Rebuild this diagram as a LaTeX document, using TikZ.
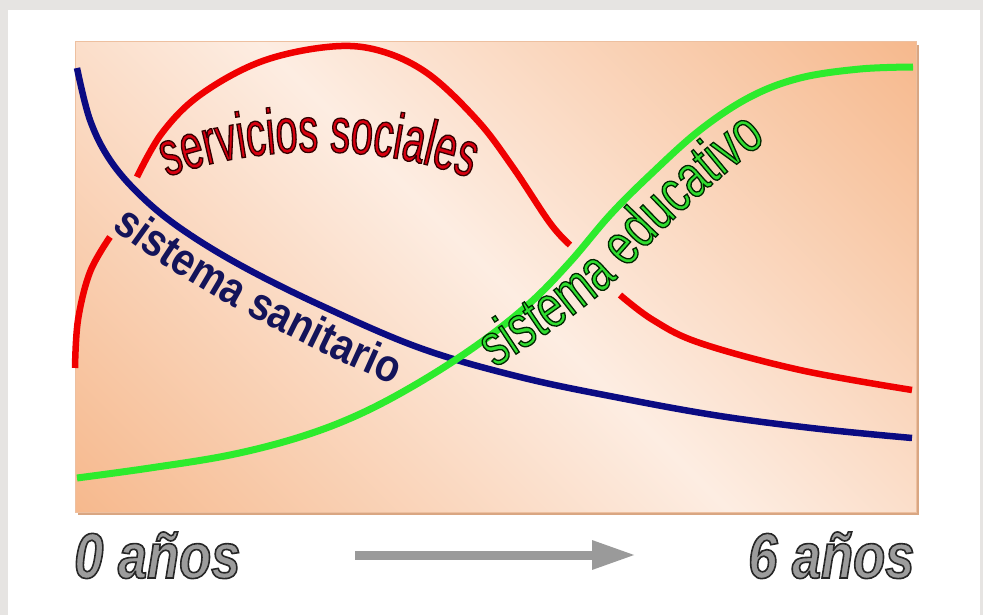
\documentclass[tikz,border=0pt]{standalone}
\usepackage{fontspec}
\setmainfont{Liberation Sans}
\newfontfamily\srvfont{Liberation Sans}[FakeStretch=0.62]
\newfontfamily\sanfont{Liberation Sans}[FakeStretch=0.86]
\newfontfamily\edufont{Liberation Sans}[FakeStretch=0.74]
\newfontfamily\agefont{Liberation Sans}[FakeStretch=0.82]
\usetikzlibrary{decorations.text,arrows.meta}
\definecolor{bggray}{HTML}{E6E4E2}
\definecolor{orng}{HTML}{F6B88C}
\definecolor{lite}{HTML}{FDEDE2}
\definecolor{pborder}{HTML}{EDC0A0}
\definecolor{pshadow}{HTML}{D9A682}
\definecolor{cred}{HTML}{F00000}
\definecolor{cblue}{HTML}{0B0B82}
\definecolor{cgreen}{HTML}{2DEB2D}
\definecolor{tred}{HTML}{D80010}
\definecolor{tnavy}{HTML}{14145A}
\definecolor{tgreen}{HTML}{30DC30}
\definecolor{agegray}{HTML}{9C9C9C}
\definecolor{arrgray}{HTML}{9A9A9A}
\pgfdeclareverticalshading{panelshade}{100bp}{color(0bp)=(orng); color(14bp)=(orng); color(50bp)=(lite); color(86bp)=(orng); color(100bp)=(orng)}
\newcommand\olRed{\special{pdf:literal direct 0.2 0 0 RG 1.3 w 2 Tr}}
\newcommand\olGrn{\special{pdf:literal direct 0 0.15 0 RG 1.3 w 2 Tr}}
\newcommand\olGray{\special{pdf:literal direct 0.15 0.15 0.15 RG 1.6 w 2 Tr}}
\newcommand\olOff{\special{pdf:literal direct 0 Tr}}
\begin{document}
\begin{tikzpicture}[x=1pt,y=-1pt,
  curve/.style={line width=6.5pt},
  agelabel/.style={anchor=base west, inner sep=0pt, text=agegray,
    font=\agefont\bfseries\itshape\fontsize{64}{64}\selectfont}]
\useasboundingbox (0,0) rectangle (983,615);
\fill[bggray] (0,0) rectangle (983,615);
\fill[white] (8,10) rectangle (980,615);
% panel
\fill[pshadow] (78,45) rectangle (919,515);
\shade[shading=panelshade, shading angle=-45] (75,42) rectangle (916,512);
\draw[pborder, line width=1pt] (75,42) rectangle (916,512);
% red curve (three visible pieces)
\draw[curve, cred] plot[smooth, tension=0.6] coordinates {(75,368) (78,320) (90,272) (110,237)};
\draw[curve, cred] plot[smooth, tension=0.6] coordinates {(137,177) (162,133) (200,95) (260,62) (327,47) (377,50) (427,73) (477,120) (512,166) (550,223) (570,245)};
\draw[curve, cred] plot[smooth, tension=0.6] coordinates {(620,295) (653,320) (700,343) (800,370) (912,390)};
% blue curve
\draw[curve, cblue] plot[smooth, tension=0.6] coordinates {(77,68) (90,120) (110,160) (140,195) (180,228) (240,265) (320,305) (420,348) (520,377) (620,398) (720,416) (820,429) (912,438)};
% green curve
\draw[curve, cgreen, line width=7pt] plot[smooth, tension=0.6] coordinates {(77,478) (150,468) (230,455) (300,437) (360,414) (420,382) (480,343) (530,303) (570,262) (610,215) (650,175) (700,130) (750,97) (800,78) (860,69) (913,67)};
% curve labels
\path[decorate, decoration={text along path,
  text={|\sanfont\bfseries\fontsize{46}{46}\selectfont\color{tnavy}|sistema sanitario}}]
  (112,228) .. controls (190,290) and (310,350) .. (410,392);
\path[decorate, decoration={text along path,
  text={|\srvfont\fontsize{64}{64}\selectfont\color{tred}\olRed|servicios sociales}}]
  (167,177) .. controls (262,142) and (392,142) .. (492,187);
\path[decorate, decoration={text along path,
  text={|\edufont\fontsize{60}{60}\selectfont\color{tgreen}\olGrn|sistema educativo}}]
  (495,368) .. controls (560,325) and (600,300) .. (637,257) .. controls (670,220) and (720,175) .. (785,127);
% time axis
\coordinate (arrS) at (355,555);
\coordinate (arrE) at (636,555);
\draw[arrgray, line width=9pt, -{Triangle[length=44pt,width=27pt]}] (arrS) -- (arrE);
\node[agelabel] (age0) at (74,578) {\olGray 0 años\olOff};
\node[agelabel] (age6) at (748,578) {\olGray 6 años\olOff};
\end{tikzpicture}
\end{document}
